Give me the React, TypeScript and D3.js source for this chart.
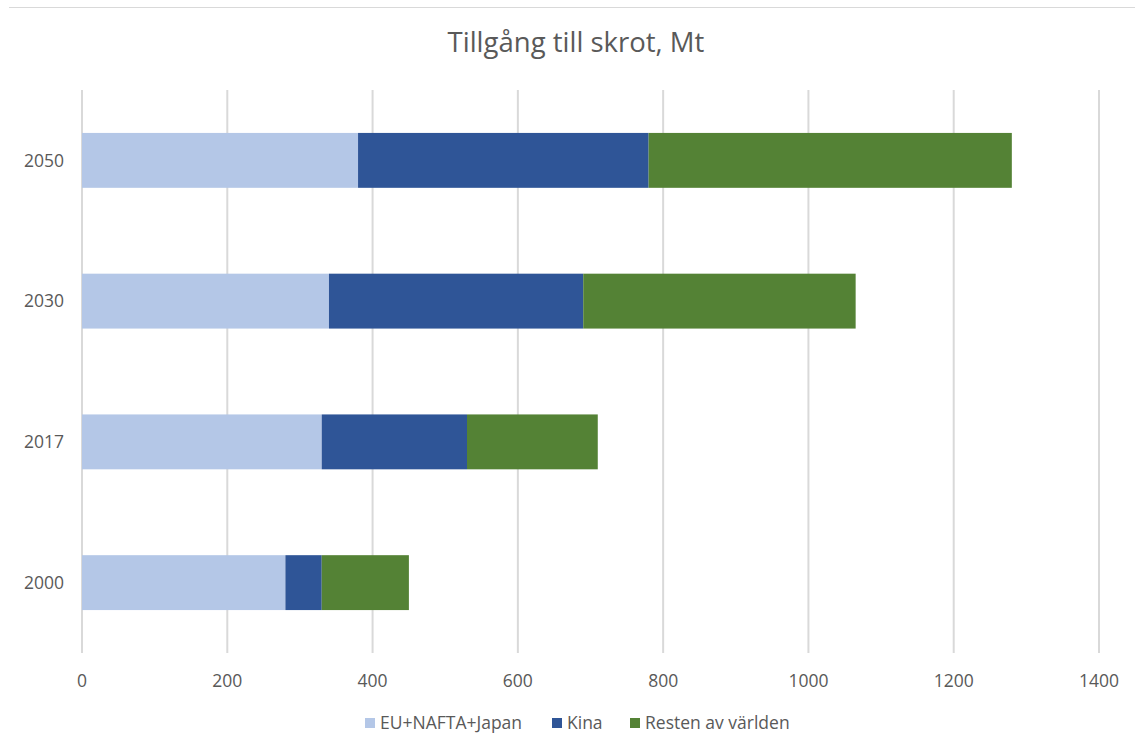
import React from "react";
import * as d3 from "d3";

const years = ["2050", "2030", "2017", "2000"];
const euNaftaJapan = [380, 340, 330, 280];
const kina = [400, 350, 200, 50];
const restenAvVarlden = [500, 375, 180, 120];
const seriesNames = ["EU+NAFTA+Japan", "Kina", "Resten av världen"];
const seriesColors = ["#b4c7e7", "#2f5597", "#548235"];
const xTicks = [0, 200, 400, 600, 800, 1000, 1200, 1400];

const W = 1135;
const H = 747;
const FONT = "'Open Sans', 'Liberation Sans', sans-serif";

export default function App() {
  const x = d3.scaleLinear().domain([0, 1400]).range([82, 1099]);
  const y = d3.scaleBand().domain(years).range([90, 653]).paddingInner(0.61).paddingOuter(0.305);

  const rows = years.map((yr, i) => ({
    year: yr,
    EU: euNaftaJapan[i],
    Kina: kina[i],
    Rest: restenAvVarlden[i],
  }));
  const stack = d3.stack<any>().keys(["EU", "Kina", "Rest"]);
  const layers = stack(rows);

  const legendItems = [
    { sq: 365, tx: 380 },
    { sq: 552, tx: 567 },
    { sq: 630, tx: 645 },
  ];

  return (
    <svg width={W} height={H} style={{ position: "absolute", left: 0, top: 0 }}>
      <rect width={W} height={H} fill="#ffffff" />
      <line x1={9} x2={W} y1={7.5} y2={7.5} stroke="#d9d9d9" strokeWidth={1} />
      <text x={576} y={52} textAnchor="middle" fontFamily={FONT} fontSize={27.5} fill="#595959">
        Tillgång till skrot, Mt
      </text>
      {xTicks.map((t) => (
        <line key={t} x1={x(t)} x2={x(t)} y1={90} y2={653} stroke="#d9d9d9" strokeWidth={2} />
      ))}
      {layers.map((layer, li) =>
        layer.map((d, i) => (
          <rect
            key={`${li}-${i}`}
            x={x(d[0])}
            width={x(d[1]) - x(d[0])}
            y={y(years[i])}
            height={y.bandwidth()}
            fill={seriesColors[li]}
          />
        ))
      )}
      {years.map((yr) => (
        <text
          key={yr}
          x={64}
          y={(y(yr) as number) + y.bandwidth() / 2}
          dy="0.36em"
          textAnchor="end"
          fontFamily={FONT}
          fontSize={17.5}
          fill="#595959"
        >
          {yr}
        </text>
      ))}
      {xTicks.map((t) => (
        <text key={t} x={x(t)} y={687} textAnchor="middle" fontFamily={FONT} fontSize={17.5} fill="#595959">
          {t}
        </text>
      ))}
      {seriesNames.map((n, i) => (
        <g key={n}>
          <rect x={legendItems[i].sq} y={718} width={10} height={10} fill={seriesColors[i]} />
          <text x={legendItems[i].tx} y={729} fontFamily={FONT} fontSize={17.5} fill="#595959">
            {n}
          </text>
        </g>
      ))}
    </svg>
  );
}
